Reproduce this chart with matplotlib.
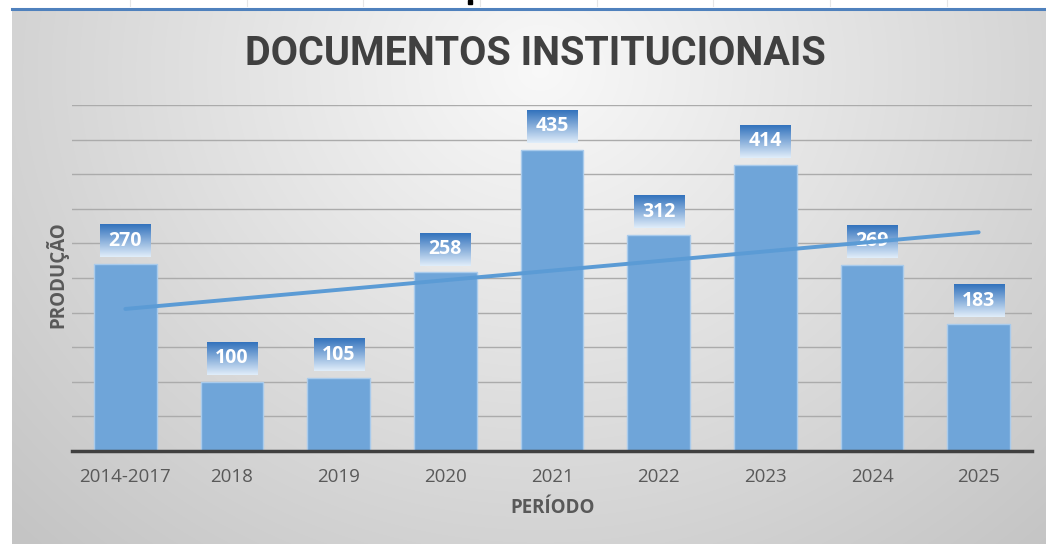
import numpy as np
import matplotlib
matplotlib.use('Agg')
import matplotlib.pyplot as plt
from matplotlib import font_manager

periods = ['2014-2017', '2018', '2019', '2020', '2021', '2022', '2023', '2024', '2025']
production = [270, 100, 105, 258, 435, 312, 414, 269, 183]

W, H = 1046, 544


def pickFont(names):
    for name in names:
        try:
            font_manager.findfont(name, fallback_to_default=False)
            return name
        except Exception:
            pass
    return 'DejaVu Sans'


TITLE_FONT = pickFont(['Liberation Sans Narrow', 'Roboto', 'Open Sans'])
BODY_FONT = pickFont(['Open Sans', 'Noto Sans', 'DejaVu Sans'])
GREY = '#595959'

fig = plt.figure(figsize=(W / 100, H / 100), dpi=100)

# background: white page with grey radial gradient chart area
bg = fig.add_axes([0, 0, 1, 1], zorder=-10)
yy, xx = np.mgrid[0:H, 0:W]
d = np.sqrt(((xx - 540) / 720.0) ** 2 + ((yy - 70) / 640.0) ** 2)
shade = np.clip(0.975 - 0.20 * d, 0.77, 0.98)
img = np.dstack([shade, shade, shade])
img[:, :12] = 1.0
img[:8, :] = 1.0
bg.imshow(img, extent=(0, W, H, 0), aspect='auto', interpolation='bilinear')
bg.plot([12, W], [9, 9], color='#4F81BD', lw=2.2)
for gx in [130, 247, 363, 480, 597, 713, 830, 947]:
    bg.plot([gx, gx], [0, 6], color='#E6E6E6', lw=0.8)
bg.plot([470], [2], marker='s', ms=2.5, color='black', lw=0)
bg.set_xlim(0, W)
bg.set_ylim(H, 0)
bg.axis('off')

ax = fig.add_axes([72 / W, (H - 451) / H, 960 / W, 346 / H])
ax.set_facecolor('none')
x = np.arange(len(periods))

ax.bar(x, production, width=0.59, color='#6FA5D9', edgecolor='#A9CBEC',
       linewidth=1, zorder=2)

# data labels: gradient boxes with white bold numbers
grad = np.linspace(0, 1, 64)[:, None]
top_c = np.array([0.20, 0.45, 0.74])
bot_c = np.array([0.88, 0.93, 0.98])
box = top_c[None, None, :] * (1 - grad[:, :, None]) + bot_c[None, None, :] * grad[:, :, None]
for xi, v in zip(x, production):
    ax.imshow(box, extent=(xi - 0.235, xi + 0.235, v + 10, v + 57),
              aspect='auto', zorder=3, interpolation='bilinear')
    ax.text(xi, v + 34, str(v), ha='center', va='center', color='white',
            fontsize=14, fontweight='bold', family=BODY_FONT, zorder=3.5)

# linear trend line
coef = np.polyfit(x, production, 1)
ax.plot(x, np.polyval(coef, x), color='#5B9BD5', lw=2.8, zorder=4,
        solid_capstyle='round')

ax.set_xlim(-0.5, len(periods) - 0.5)
ax.set_ylim(0, 500)
ax.set_yticks(np.arange(50, 501, 50))
ax.yaxis.grid(True, color='#ABABAB', lw=1)
ax.set_axisbelow(True)
ax.tick_params(axis='y', left=False, labelleft=False)
ax.tick_params(axis='x', bottom=False, pad=9)
ax.set_xticks(x)
ax.set_xticklabels(periods, fontsize=13.5, color=GREY, family=BODY_FONT)
for s in ['top', 'right', 'left']:
    ax.spines[s].set_visible(False)
ax.spines['bottom'].set_color('#404040')
ax.spines['bottom'].set_linewidth(2.5)

fig.text(553 / W, 1 - 508 / H, 'PERÍODO', ha='center', va='center',
         fontsize=13.5, fontweight='bold', color=GREY, family=BODY_FONT)
fig.text(57 / W, 1 - 275 / H, 'PRODUÇÃO', ha='center', va='center',
         rotation=90, fontsize=13.5, fontweight='bold', color=GREY, family=BODY_FONT)
fig.text(535 / W, 1 - 54 / H, 'DOCUMENTOS INSTITUCIONAIS', ha='center',
         va='center', fontsize=28.5, fontweight='bold', color='#404040',
         family=TITLE_FONT)

fig.savefig('out.png', dpi=100)
